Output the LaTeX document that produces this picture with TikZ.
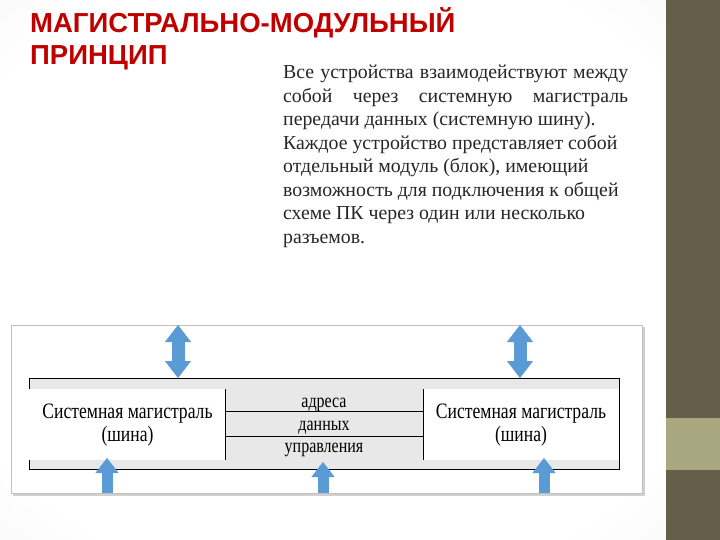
\documentclass[tikz,border=0pt]{standalone}
\usepackage{fontspec}
\setmainfont{Liberation Serif}
\newfontfamily\headfont{Liberation Sans}
\usetikzlibrary{arrows.meta,positioning}

\definecolor{titlered}{HTML}{C00000}
\definecolor{olivedark}{HTML}{655E48}
\definecolor{olivelight}{HTML}{A9A77F}
\definecolor{arrowblue}{HTML}{5B9BD5}
\definecolor{busgray}{HTML}{E8E8E8}
\pgfdeclareradialshading{slidebg}{\pgfpoint{0bp}{0bp}}{color(0bp)=(white);
  color(30bp)=(white); color(58bp)=(black!10); color(72bp)=(black!14)}

\begin{document}
\begin{tikzpicture}[x=1pt,y=-1pt,
  heading/.style={anchor=base west,inner sep=0pt,text=titlered,
    font=\headfont\bfseries\fontsize{27.5}{30}\selectfont},
  textline/.style={anchor=base west,inner sep=0pt,text=black!85,
    font=\fontsize{19.8}{23}\selectfont},
  cell/.style={anchor=base,inner sep=0pt,font=\fontsize{22}{24}\selectfont},
  twoway/.style={line width=13pt,arrowblue,
    >={Triangle[length=17pt,width=26pt,line width=0.4pt]},<->},
  oneway/.style={line width=11pt,arrowblue,
    >={Triangle[length=15pt,width=23pt,line width=0.4pt]},->}]
  \useasboundingbox (0,0) rectangle (720,540);

  % slide background
  \shade[shading=slidebg] (0,0) rectangle (666,540);
  \fill[olivedark] (666,0) rectangle (720,540);
  \fill[olivelight] (666,418) rectangle (720,470);

  % heading and text
  \node[heading] (title1) at (30,33) {МАГИСТРАЛЬНО-МОДУЛЬНЫЙ};
  \node[heading] (title2) at (30,65) {ПРИНЦИП};

  \node[textline] (line1) at (283,79) {\makebox[345pt][s]{Все устройства взаимодействуют между}};
  \node[textline] (line2) at (283,102.5) {\makebox[345pt][s]{собой через системную магистраль}};
  \node[textline] (line3) at (283,126) {передачи данных (системную шину).};
  \node[textline] (line4) at (283,149.5) {Каждое устройство представляет собой};
  \node[textline] (line5) at (283,173) {отдельный модуль (блок), имеющий};
  \node[textline] (line6) at (283,196.5) {возможность для подключения к общей};
  \node[textline] (line7) at (283,220) {схеме ПК через один или несколько};
  \node[textline] (line8) at (283,243.5) {разъемов.};

  % picture panel
  \fill[black!18] (13,327) rectangle (645,496);
  \fill[white,draw=black!25,line width=1pt] (11,325) rectangle (642,493);

  % bus table
  \node[draw,fill=busgray,line width=0.8pt,minimum width=590pt,minimum height=91pt,
        inner sep=0pt] (bus) at (324,423.5) {};
  \fill[white] (29.4,389) rectangle (225,460);
  \fill[white] (423,389) rectangle (618.6,460);
  \draw[line width=0.8pt] (225,389) -- (225,460);
  \draw[line width=0.8pt] (423,389) -- (423,460);
  \draw[line width=0.8pt] (225,411) -- (423,411);
  \draw[line width=0.8pt] (225,436) -- (423,436);

  \node[cell] (busleft) at (127.5,418) {\scalebox{0.8}[1]{Системная магистраль}};
  \node[cell] (shinaleft) at (127.5,441) {\scalebox{0.8}[1]{(шина)}};
  \node[cell] (busright) at (521,418) {\scalebox{0.8}[1]{Системная магистраль}};
  \node[cell] (shinaright) at (521,441) {\scalebox{0.8}[1]{(шина)}};
  \node[cell,font=\fontsize{20}{22}\selectfont] (addr) at (324,407) {\scalebox{0.8}[1]{адреса}};
  \node[cell,font=\fontsize{20}{22}\selectfont] (data) at (324,430) {\scalebox{0.8}[1]{данных}};
  \node[cell,font=\fontsize{20}{22}\selectfont] (ctrl) at (324,452) {\scalebox{0.8}[1]{управления}};

  % arrow ends
  \coordinate (topL) at (178,325);
  \coordinate (busL) at (178,378);
  \coordinate (topR) at (520,325);
  \coordinate (busR) at (520,378);
  \coordinate (botL) at (107,493);
  \coordinate (tipL) at (107,458);
  \coordinate (botM) at (323,493);
  \coordinate (tipM) at (323,462);
  \coordinate (botR) at (544,493);
  \coordinate (tipR) at (544,458);

  \draw[twoway] (topL) -- (busL);
  \draw[twoway] (topR) -- (busR);
  \draw[oneway] (botL) -- (tipL);
  \draw[oneway] (botM) -- (tipM);
  \draw[oneway] (botR) -- (tipR);
\end{tikzpicture}
\end{document}
